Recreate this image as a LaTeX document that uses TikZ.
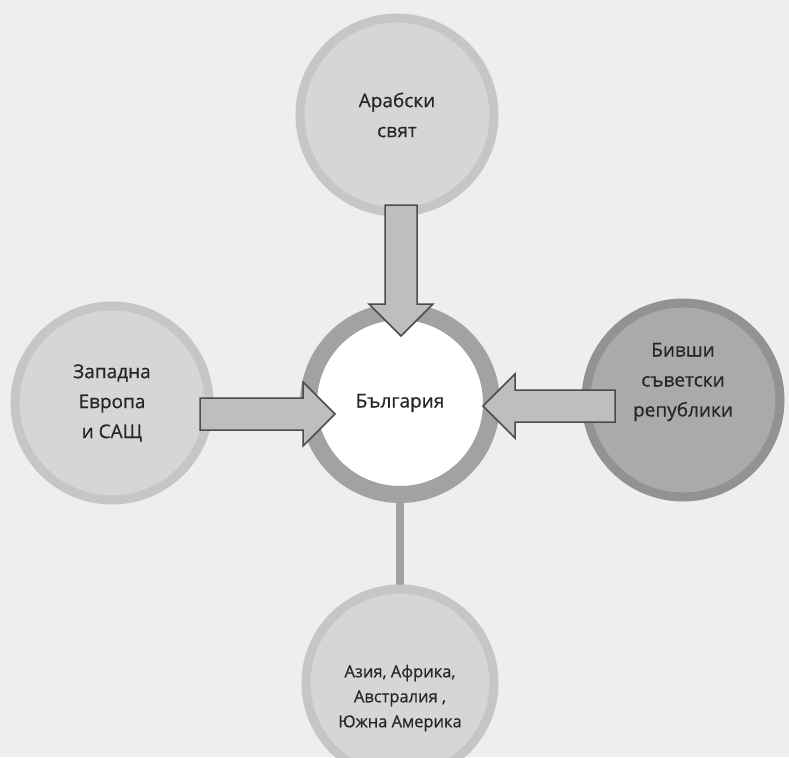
\documentclass[tikz,border=0pt]{standalone}
\usepackage{fontspec}
\setmainfont{Open Sans}
\newfontfamily\rotulo[FakeBold=0.6]{Open Sans}
\usetikzlibrary{positioning}

\definecolor{fondo}{HTML}{EEEEEE}
\definecolor{claro}{HTML}{D6D6D6}
\definecolor{claroborde}{HTML}{C6C6C6}
\definecolor{oscuro}{HTML}{AAAAAA}
\definecolor{oscuroborde}{HTML}{929292}
\definecolor{anillo}{HTML}{A2A2A2}
\definecolor{flechagris}{HTML}{BEBEBE}

\tikzset{
  region/.style={circle, minimum size=194pt, fill=claro, draw=claroborde,
    line width=9pt, align=center, text=black!85, font=\rotulo\fontsize{19}{30}\selectfont},
  centro/.style={circle, minimum size=183pt, fill=white, draw=anillo,
    line width=17pt, text=black!85, font=\rotulo\fontsize{19}{30}\selectfont},
  enlace/.style={draw=anillo, line width=8pt},
  flechagorda/.style={fill=flechagris, draw=black!70, line width=1.5pt, line join=miter}
}

% flecha gruesa: cola, giro, largo
\newcommand\flecha[3]{%
  \begin{scope}[shift={(#1)}, rotate=#2]
    \draw[flechagorda] (0,-16) -- (#3-32,-16) -- (#3-32,-32) -- (#3,0)
      -- (#3-32,32) -- (#3-32,16) -- (0,16) -- cycle;
  \end{scope}}

\begin{document}
\begin{tikzpicture}[x=1pt, y=-1pt]
    % Fondo
    \fill[fondo] (0,0) rectangle (789,757);
    \useasboundingbox (0,0) rectangle (789,757);

    % Enlace hacia abajo
    \coordinate (abajo) at (400,500);
    \coordinate (arriba) at (400,590);
    \draw[enlace] (abajo) -- (arriba);

    % Regiones
    \node[region] (arab) at (397,115) {Арабски\\свят};
    \node[region] (europe) at (112,403) {Западна\\Европа\\и САЩ};
    \node[region, fill=oscuro, draw=oscuroborde,
      label={[align=center, text=black!85, font=\rotulo\fontsize{19}{30}\selectfont, yshift=18pt]center:Бивши\\съветски\\републики}]
      (soviet) at (683,400) {};
    \node[region, minimum size=188pt,
      label={[align=center, text=black!85, font=\rotulo\fontsize{16.5}{25}\selectfont, yshift=-15pt]center:Азия, Африка,\\Австралия ,\\Южна Америка}]
      (asia) at (400,683) {};

    % Círculo central
    \node[centro] (bulgaria) at (400,403) {България};

    % Flechas
    \coordinate (colaarab) at (401,205);
    \coordinate (colaeurope) at (200,414);
    \coordinate (colasoviet) at (615,406);
    \flecha{colaarab}{-90}{131}
    \flecha{colaeurope}{0}{135}
    \flecha{colasoviet}{180}{132}
\end{tikzpicture}
\end{document}
